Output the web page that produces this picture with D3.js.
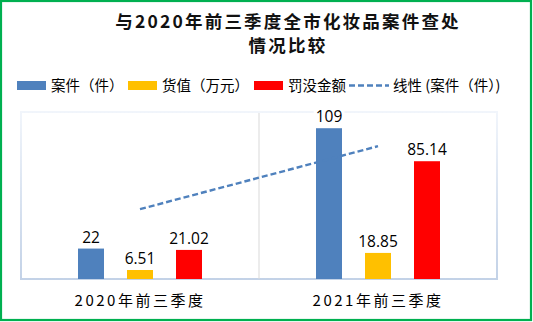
<!DOCTYPE html>
<html><head><meta charset="utf-8">
<script src="https://cdn.jsdelivr.net/npm/d3@7"></script>
<style>body{margin:0;background:#fff}svg{display:block}</style>
</head><body>
<script>
const categories = ["2020年前三季度", "2021年前三季度"];
const seriesNames = ["案件（件）", "货值（万元）", "罚没金额"];
const cases = [22, 109];
const goodsValue = [6.51, 18.85];
const penalties = [21.02, 85.14];
const trendValues = [50.5, 96];
const trendName = "线性 (案件（件）)";
const colors = ["#4F81BD", "#FFC000", "#FF0000"];

(function(){
const W = 533, H = 322;
const svg = d3.select("body").append("svg").attr("width", W).attr("height", H);
const font = "'Noto Sans CJK SC', 'Noto Sans', sans-serif";

svg.append("rect").attr("x",1).attr("y",1).attr("width",W-3).attr("height",H-3)
  .attr("fill","#fff").attr("stroke","#00B050").attr("stroke-width",2.2);

// title
const titleLines = ["与2020年前三季度全市化妆品案件查处", "情况比较"];
svg.selectAll("text.title").data(titleLines).enter().append("text").attr("class","title")
  .attr("text-anchor","middle").attr("font-family",font)
  .attr("font-weight","bold").attr("font-size",17.5).attr("fill","#111").attr("letter-spacing",2.2)
  .attr("x",288).attr("y",(d,i)=>28+i*23.5).text(d=>d);

// plot area
const pLeft = 21, pRight = 497, pTop = 113, pBottom = 279;
const defs = svg.append("defs");
const g1 = defs.append("linearGradient").attr("id","bord").attr("x1",0).attr("y1",0).attr("x2",0).attr("y2",1);
g1.append("stop").attr("offset","0%").attr("stop-color","#f1f5fb");
g1.append("stop").attr("offset","100%").attr("stop-color","#c3d2e7");
svg.append("rect").attr("x",pLeft).attr("y",pTop-1).attr("width",pRight-pLeft).attr("height",pBottom-pTop+1)
  .attr("fill","none").attr("stroke","url(#bord)").attr("stroke-width",2);

const x = d3.scaleBand().domain(categories).range([pLeft, pRight]);
const y = d3.scaleLinear().domain([0, 120]).range([pBottom, pTop]);
const inner = 147;
const xs = d3.scaleBand().domain(seriesNames).range([0, inner]).paddingInner(23/49).paddingOuter(23/98);

// divider
svg.append("line").attr("x1", x(categories[1])).attr("x2", x(categories[1]))
  .attr("y1", pTop).attr("y2", pBottom).attr("stroke","#d9d9d9").attr("stroke-width",1);

const series = [cases, goodsValue, penalties];
const data = [];
categories.forEach((c,i)=>series.forEach((s,j)=>data.push({c, s:seriesNames[j], v:s[i], col:colors[j]})));
const off = (x.bandwidth()-inner)/2;

svg.selectAll("rect.bar").data(data).enter().append("rect").attr("class","bar")
  .attr("x", d=>x(d.c)+off+xs(d.s)).attr("width", xs.bandwidth())
  .attr("y", d=>y(d.v)).attr("height", d=>pBottom-y(d.v)).attr("fill", d=>d.col);

// trend line
const tl = d3.line().x((d,i)=>x(categories[i])+x.bandwidth()/2).y(d=>y(d));
svg.append("path").attr("d", tl(trendValues)).attr("fill","none").attr("stroke","#4F81BD")
  .attr("stroke-width",2.4).attr("stroke-dasharray","6,3");

// labels
const lab = svg.selectAll("g.lab").data(data).enter().append("g").attr("class","lab");
lab.each(function(d){
  const g = d3.select(this);
  const cx = x(d.c)+off+xs(d.s)+xs.bandwidth()/2;
  const t = g.append("text").attr("x",cx).attr("y",y(d.v)-6).attr("text-anchor","middle")
    .attr("font-family","'Open Sans', 'Noto Sans', sans-serif").attr("font-size",15.5).attr("fill","#000").text(d.v);
  const bb = t.node().getBBox();
  g.insert("rect","text").attr("x",bb.x-2).attr("y",bb.y).attr("width",bb.width+4).attr("height",bb.height).attr("fill","#fff");
});

// category labels
svg.selectAll("text.cat").data(categories).enter().append("text").attr("class","cat")
  .attr("x", d=>x(d)+x.bandwidth()/2).attr("y",306).attr("text-anchor","middle")
  .attr("font-family",font).attr("font-size",15).attr("letter-spacing",2.5).attr("fill","#000").text(d=>d);

// legend
const legend = svg.append("g").attr("font-family",font).attr("font-size",14.5).attr("fill","#000");
const lx = [17, 128, 254];
seriesNames.forEach((n,i)=>{
  legend.append("rect").attr("x",lx[i]).attr("y",81).attr("width",29).attr("height",9).attr("fill",colors[i]);
  legend.append("text").attr("x",lx[i]+34).attr("y",91).text(n);
});
legend.append("line").attr("x1",349).attr("x2",389).attr("y1",85.5).attr("y2",85.5)
  .attr("stroke","#4F81BD").attr("stroke-width",2.4).attr("stroke-dasharray","6,3");
legend.append("text").attr("x",393).attr("y",91).text(trendName);
})();
</script>
</body></html>
